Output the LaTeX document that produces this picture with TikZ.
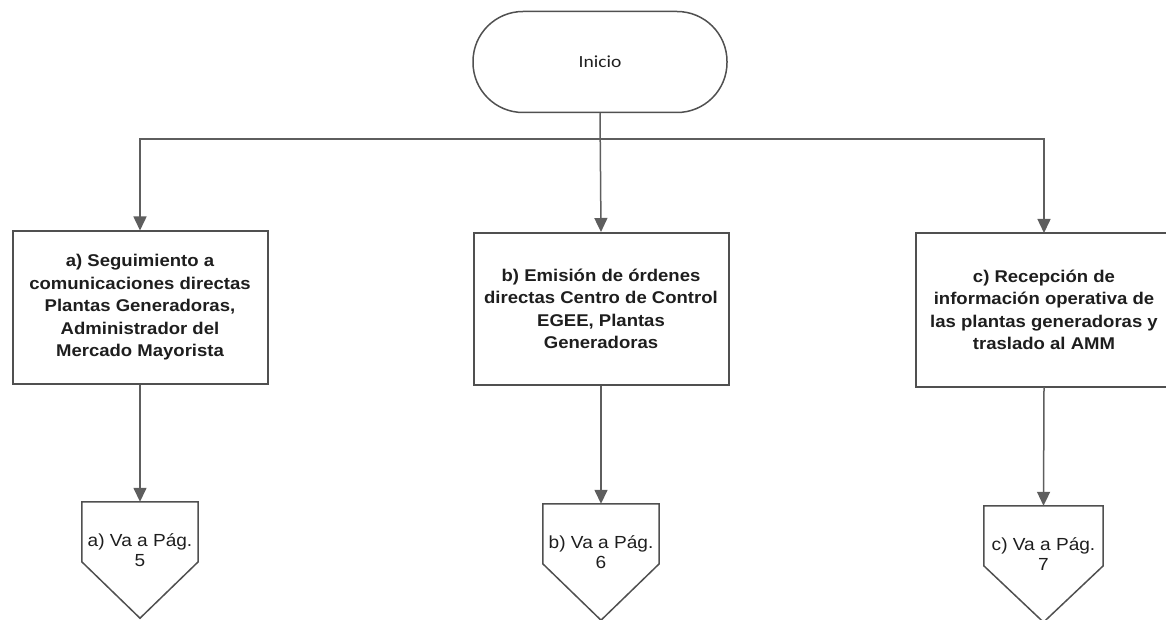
\documentclass[tikz,border=0pt]{standalone}
\usepackage{fontspec}
\newfontfamily\arialx[FakeStretch=1.09]{Liberation Sans}
\newfontfamily\calx[FakeStretch=1.15]{Carlito}
\usetikzlibrary{arrows.meta}
\definecolor{linegray}{HTML}{5E5E5E}
\definecolor{boxgray}{HTML}{505050}
\definecolor{inkblack}{HTML}{1E1E1E}

\begin{document}
\begin{tikzpicture}[x=1pt,y=1pt,
  line/.style={draw=linegray, line width=1.5pt},
  arr/.style={line, -{Triangle[length=14pt,width=13pt]}},
  term/.style={draw=boxgray, line width=1.5pt, rounded corners=50pt,
    minimum width=254pt, minimum height=101pt, text=inkblack,
    font=\calx\fontsize{17}{20}\selectfont},
  procbox/.style={draw=boxgray, line width=2pt, minimum width=255pt,
    minimum height=152pt, align=center, text=inkblack,
    font=\arialx\bfseries\fontsize{17}{22.5}\selectfont},
  boxline/.style={draw=boxgray, line width=2pt},
  offpage/.style={minimum width=116pt, minimum height=116pt, inner sep=0pt},
  offline/.style={draw=boxgray, line width=1.5pt, line join=miter},
  offtext/.style={align=center, text=inkblack, inner sep=0pt,
    font=\arialx\fontsize{17.5}{20}\selectfont}
]
\useasboundingbox (0,0) rectangle (1166,619);

% start terminal
\node[term] (ini) at (600,557) {Inicio};

% process boxes
\node[procbox] (a) at (140,311.5) {a) Seguimiento a\\comunicaciones directas\\Plantas Generadoras,\\Administrador del\\Mercado Mayorista};
\node[procbox] (b) at (601,310) {b) Emisión de órdenes\\directas Centro de Control\\EGEE, Plantas\\Generadoras};
% the third box runs past the right edge of the sheet
\node[procbox, draw=none] (c) at (1044,309) {c) Recepción de\\información operativa de\\las plantas generadoras y\\traslado al AMM};
\draw[boxline] ([xshift=40pt]c.north east) -- (c.north west) -- (c.south west) -- ([xshift=40pt]c.south east);

% off-page connectors
\node[offpage] (pa) at (140,59) {};
\node[offpage] (pb) at (601,57) {};
\node[offpage, minimum width=119pt] (pc) at (1043.5,55) {};
\foreach \p in {pa,pb,pc}{
  \draw[offline] (\p.north west) -- (\p.north east) -- ([yshift=-60pt]\p.north east)
    -- (\p.south) -- ([yshift=-60pt]\p.north west) -- cycle;
}
\node[offtext, yshift=10pt] at (pa) {a) Va a Pág.\\5};
\node[offtext, yshift=10pt] at (pb) {b) Va a Pág.\\6};
\node[offtext, yshift=10pt] at (pc) {c) Va a Pág.\\7};

% branching connectors
\coordinate (j) at (ini.south |- 0,480);
\draw[arr] (ini.south) -- (b.north);
\draw[arr] (j) -| (a.north);
\draw[arr] (j) -| (c.north);

\draw[arr] (a.south) -- (pa.north);
\draw[arr] (b.south) -- (pb.north);
\draw[arr] (c.south) -- (pc.north);
\end{tikzpicture}
\end{document}
